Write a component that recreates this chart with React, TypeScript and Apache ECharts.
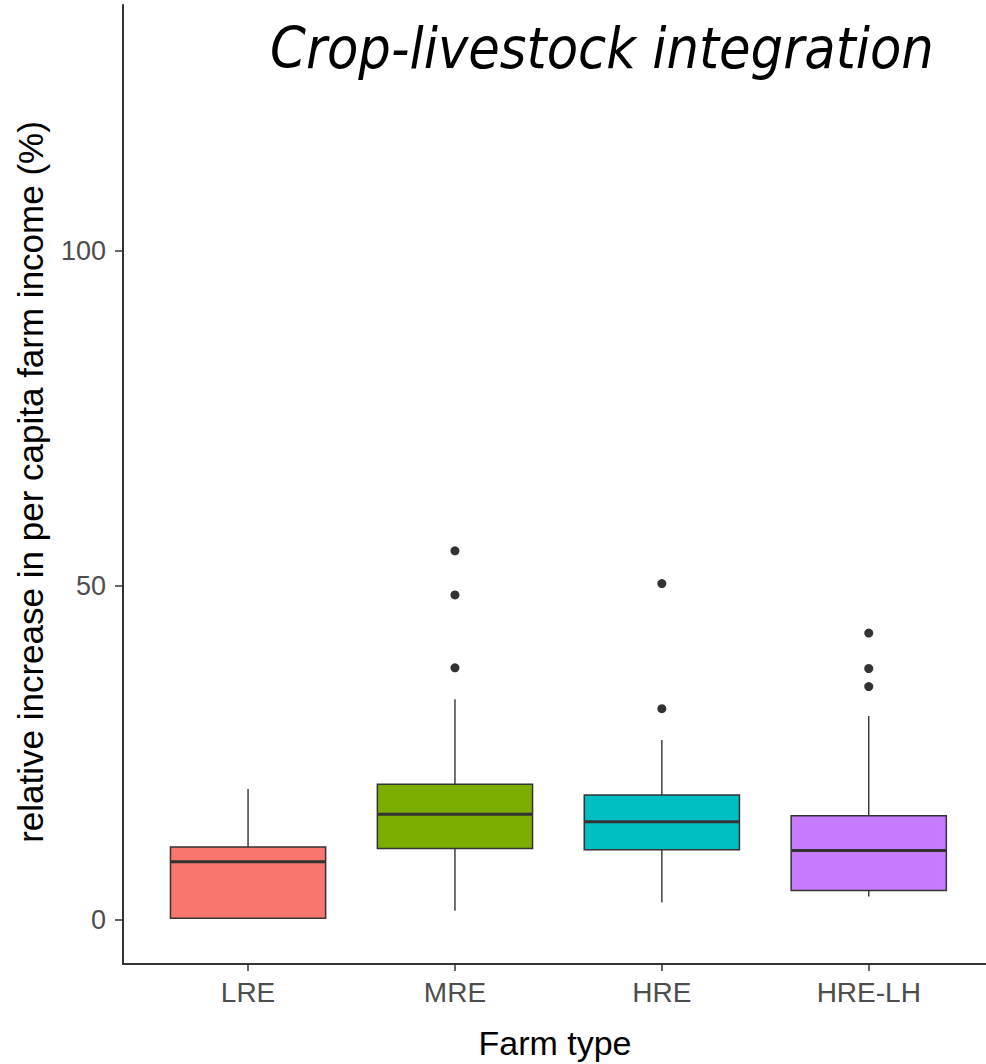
import React, { useEffect, useRef } from "react";
import * as echarts from "echarts";

// Farm types along the x axis
const farmTypes = ["LRE", "MRE", "HRE", "HRE-LH"];
// Five-number summaries per farm type: [lower whisker, Q1, median, Q3, upper whisker]
const boxStats = [
  [0.25, 0.25, 8.7, 10.9, 19.6],
  [1.4, 10.7, 15.8, 20.3, 33.0],
  [2.6, 10.5, 14.7, 18.7, 26.9],
  [3.5, 4.4, 10.4, 15.6, 30.5],
];
// Outlying observations: [farm type index, value]
const outliers = [
  [1, 55.2],
  [1, 48.6],
  [1, 37.7],
  [2, 50.3],
  [2, 31.6],
  [3, 42.9],
  [3, 37.6],
  [3, 34.9],
];
const fillColors = ["#F8766D", "#7CAE00", "#00BFC4", "#C77CFF"];
const yTicks = [0, 50, 100];

const Y_MIN = -6.58;
const Y_MAX = 136.8;

export default function App() {
  const ref = useRef<HTMLDivElement>(null);

  useEffect(() => {
    if (!ref.current) return;
    const chart = echarts.init(ref.current, null, { renderer: "svg" });

    const boxData = boxStats.map((s, i) => [i, ...s]);
    const axisColor = "#333333";
    const labelFont = "'Liberation Sans', Arial, sans-serif";

    const option: any = {
      animation: false,
      backgroundColor: "#ffffff",
      grid: [
        // grid holding the boxes; width chosen so categories sit 0.6 bands in from each edge
        { left: 144.6, right: 13.8, top: 5, bottom: 100 },
        // grid carrying the visible axis lines across the full panel
        { left: 123, width: 880, top: 5, bottom: 100 },
      ],
      xAxis: [
        {
          type: "category",
          gridIndex: 0,
          data: farmTypes,
          boundaryGap: true,
          axisLine: { show: false, onZero: false },
          axisTick: {
            show: true,
            alignWithLabel: true,
            length: 7,
            lineStyle: { color: axisColor, width: 1.5 },
          },
          axisLabel: {
            fontSize: 28,
            color: "#4d4d4d",
            fontFamily: labelFont,
            margin: 14,
          },
          splitLine: { show: false },
        },
        {
          type: "value",
          gridIndex: 1,
          min: 0,
          max: 1,
          axisLine: { show: true, onZero: false, lineStyle: { color: axisColor, width: 2 } },
          axisTick: { show: false },
          axisLabel: { show: false },
          splitLine: { show: false },
        },
      ],
      yAxis: [
        {
          type: "value",
          gridIndex: 0,
          min: Y_MIN,
          max: Y_MAX,
          show: false,
          splitLine: { show: false },
        },
        {
          type: "value",
          gridIndex: 1,
          min: Y_MIN,
          max: Y_MAX,
          axisLine: { show: true, onZero: false, lineStyle: { color: axisColor, width: 2 } },
          axisTick: {
            show: true,
            length: 8,
            customValues: yTicks,
            lineStyle: { color: axisColor, width: 1.5 },
          },
          axisLabel: {
            customValues: yTicks,
            fontSize: 27,
            color: "#4d4d4d",
            fontFamily: labelFont,
            margin: 17,
          },
          splitLine: { show: false },
        },
      ],
      series: [
        {
          type: "custom",
          xAxisIndex: 0,
          yAxisIndex: 0,
          data: boxData,
          encode: { x: 0, y: [1, 2, 3, 4, 5] },
          renderItem: (params: any, api: any) => {
            const idx = api.value(0);
            const pLow = api.coord([idx, api.value(1)]);
            const pQ1 = api.coord([idx, api.value(2)]);
            const pMed = api.coord([idx, api.value(3)]);
            const pQ3 = api.coord([idx, api.value(4)]);
            const pHigh = api.coord([idx, api.value(5)]);
            const bw = api.size([1, 0])[0] * 0.75;
            const cx = pMed[0];
            const stroke = "#333333";
            return {
              type: "group",
              children: [
                {
                  type: "line",
                  shape: { x1: cx, y1: pQ3[1], x2: cx, y2: pHigh[1] },
                  style: { stroke, lineWidth: 1.4 },
                },
                {
                  type: "line",
                  shape: { x1: cx, y1: pQ1[1], x2: cx, y2: pLow[1] },
                  style: { stroke, lineWidth: 1.4 },
                },
                {
                  type: "rect",
                  shape: { x: cx - bw / 2, y: pQ3[1], width: bw, height: pQ1[1] - pQ3[1] },
                  style: { fill: fillColors[idx], stroke, lineWidth: 1.5 },
                },
                {
                  type: "line",
                  shape: { x1: cx - bw / 2, y1: pMed[1], x2: cx + bw / 2, y2: pMed[1] },
                  style: { stroke, lineWidth: 3 },
                },
              ],
            };
          },
        },
        {
          type: "scatter",
          xAxisIndex: 0,
          yAxisIndex: 0,
          data: outliers,
          symbol: "circle",
          symbolSize: 9,
          itemStyle: { color: "#333333", opacity: 1 },
        },
      ],
      graphic: [
        {
          type: "text",
          x: 30,
          y: 482,
          rotation: Math.PI / 2,
          style: {
            text: "relative increase in per capita farm income (%)",
            fontSize: 35,
            fontFamily: labelFont,
            fill: "#000000",
            align: "center",
            verticalAlign: "middle",
          },
        },
        {
          type: "text",
          x: 555,
          y: 1043,
          style: {
            text: "Farm type",
            fontSize: 34,
            fontFamily: labelFont,
            fill: "#000000",
            align: "center",
            verticalAlign: "middle",
          },
        },
        {
          type: "text",
          x: 602,
          y: 48,
          style: {
            text: "Crop-livestock integration",
            fontSize: 57,
            fontStyle: "italic",
            fontFamily: "'Liberation Sans Narrow', 'DejaVu Sans Condensed', sans-serif",
            fill: "#000000",
            align: "center",
            verticalAlign: "middle",
          },
        },
      ],
    };

    chart.setOption(option);
    return () => chart.dispose();
  }, []);

  return (
    <div
      ref={ref}
      style={{ position: "fixed", left: 0, top: 0, width: 986, height: 1064 }}
    />
  );
}
